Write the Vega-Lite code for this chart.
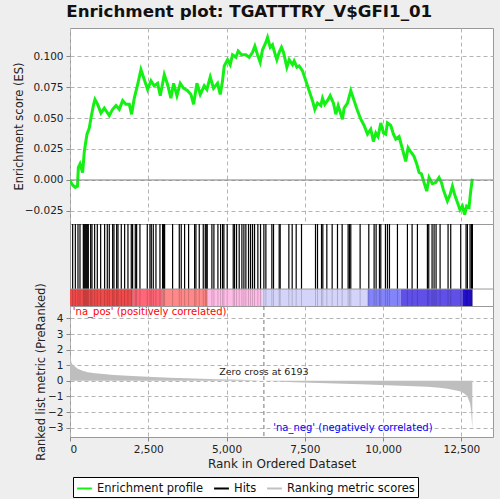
{
  "$schema": "https://vega.github.io/schema/vega-lite/v6.json",
  "background": "#eeeeee",
  "padding": {"left": 12, "top": 3, "right": 8, "bottom": 1},
  "spacing": 0,
  "bounds": "flush",
  "title": {
    "text": "Enrichment plot: TGATTTRY_V$GFI1_01",
    "font": "DejaVu Sans",
    "fontSize": 16.7,
    "fontWeight": "bold",
    "color": "#111111",
    "anchor": "middle",
    "frame": "bounds",
    "dx": -4,
    "offset": 7
  },
  "config": {
    "view": {"stroke": "#999999", "fill": "white"},
    "axis": {
      "labelFont": "DejaVu Sans",
      "labelFontSize": 10.5,
      "labelColor": "#222222",
      "labelOverlap": false,
      "titleFont": "DejaVu Sans",
      "titleFontSize": 11.5,
      "titleFontWeight": "normal",
      "titleColor": "#222222",
      "grid": true,
      "gridColor": "#b4b4b4",
      "gridDash": [4, 3],
      "gridWidth": 1,
      "gridOpacity": 1,
      "domain": false,
      "tickColor": "#888888",
      "tickSize": 4,
      "tickCount": 12,
      "labelPadding": 3,
      "zindex": 1
    },
    "legend": {
      "orient": "none",
      "legendX": 3,
      "legendY": 449,
      "direction": "horizontal",
      "title": null,
      "strokeColor": "black",
      "fillColor": "white",
      "padding": 3,
      "labelFont": "DejaVu Sans",
      "labelFontSize": 11.5,
      "labelColor": "#111111",
      "symbolType": "stroke",
      "symbolSize": 220,
      "symbolStrokeWidth": 2,
      "columnPadding": 6
    }
  },
  "datasets": {
    "es": [
      {"rank": 0, "es": 0}, {"rank": 32, "es": -0.002}, {"rank": 80, "es": -0.004}, {"rank": 170, "es": -0.006},
      {"rank": 240, "es": -0.005}, {"rank": 266, "es": 0.010}, {"rank": 320, "es": 0.013}, {"rank": 404, "es": 0.006},
      {"rank": 457, "es": 0.023}, {"rank": 543, "es": 0.037}, {"rank": 617, "es": 0.042}, {"rank": 670, "es": 0.050},
      {"rank": 755, "es": 0.061}, {"rank": 798, "es": 0.065}, {"rank": 883, "es": 0.061}, {"rank": 989, "es": 0.054},
      {"rank": 1096, "es": 0.058}, {"rank": 1255, "es": 0.052}, {"rank": 1362, "es": 0.057}, {"rank": 1468, "es": 0.060},
      {"rank": 1574, "es": 0.057}, {"rank": 1681, "es": 0.064}, {"rank": 1787, "es": 0.061}, {"rank": 1894, "es": 0.061},
      {"rank": 1968, "es": 0.053}, {"rank": 2053, "es": 0.066}, {"rank": 2160, "es": 0.077}, {"rank": 2266, "es": 0.089},
      {"rank": 2372, "es": 0.081}, {"rank": 2479, "es": 0.073}, {"rank": 2585, "es": 0.080}, {"rank": 2691, "es": 0.076},
      {"rank": 2798, "es": 0.078}, {"rank": 2883, "es": 0.068}, {"rank": 3011, "es": 0.085}, {"rank": 3117, "es": 0.077},
      {"rank": 3223, "es": 0.066}, {"rank": 3309, "es": 0.078}, {"rank": 3415, "es": 0.068}, {"rank": 3521, "es": 0.078},
      {"rank": 3628, "es": 0.074}, {"rank": 3755, "es": 0.072}, {"rank": 3862, "es": 0.069}, {"rank": 3947, "es": 0.061},
      {"rank": 4053, "es": 0.078}, {"rank": 4160, "es": 0.069}, {"rank": 4287, "es": 0.076}, {"rank": 4372, "es": 0.073},
      {"rank": 4479, "es": 0.083}, {"rank": 4585, "es": 0.074}, {"rank": 4713, "es": 0.078}, {"rank": 4798, "es": 0.069},
      {"rank": 4872, "es": 0.080}, {"rank": 4926, "es": 0.092}, {"rank": 5032, "es": 0.097}, {"rank": 5117, "es": 0.093},
      {"rank": 5191, "es": 0.101}, {"rank": 5298, "es": 0.099}, {"rank": 5372, "es": 0.104}, {"rank": 5479, "es": 0.101},
      {"rank": 5617, "es": 0.101}, {"rank": 5723, "es": 0.099}, {"rank": 5830, "es": 0.103}, {"rank": 5904, "es": 0.108},
      {"rank": 5989, "es": 0.101}, {"rank": 6074, "es": 0.095}, {"rank": 6149, "es": 0.105}, {"rank": 6255, "es": 0.111},
      {"rank": 6309, "es": 0.115}, {"rank": 6394, "es": 0.107}, {"rank": 6468, "es": 0.109}, {"rank": 6521, "es": 0.104},
      {"rank": 6606, "es": 0.097}, {"rank": 6681, "es": 0.103}, {"rank": 6755, "es": 0.107}, {"rank": 6819, "es": 0.103},
      {"rank": 6926, "es": 0.091}, {"rank": 7000, "es": 0.097}, {"rank": 7106, "es": 0.093}, {"rank": 7160, "es": 0.096},
      {"rank": 7245, "es": 0.091}, {"rank": 7319, "es": 0.092}, {"rank": 7426, "es": 0.088}, {"rank": 7532, "es": 0.080},
      {"rank": 7638, "es": 0.072}, {"rank": 7745, "es": 0.064}, {"rank": 7819, "es": 0.057}, {"rank": 7904, "es": 0.062},
      {"rank": 8011, "es": 0.060}, {"rank": 8064, "es": 0.066}, {"rank": 8138, "es": 0.061}, {"rank": 8223, "es": 0.064},
      {"rank": 8309, "es": 0.068}, {"rank": 8415, "es": 0.062}, {"rank": 8489, "es": 0.053}, {"rank": 8564, "es": 0.060},
      {"rank": 8702, "es": 0.049}, {"rank": 8755, "es": 0.058}, {"rank": 8862, "es": 0.062}, {"rank": 8968, "es": 0.072},
      {"rank": 9074, "es": 0.064}, {"rank": 9181, "es": 0.056}, {"rank": 9287, "es": 0.049}, {"rank": 9394, "es": 0.044},
      {"rank": 9500, "es": 0.037}, {"rank": 9606, "es": 0.041}, {"rank": 9691, "es": 0.031}, {"rank": 9766, "es": 0.038},
      {"rank": 9840, "es": 0.035}, {"rank": 9926, "es": 0.046}, {"rank": 10011, "es": 0.038}, {"rank": 10085, "es": 0.037},
      {"rank": 10138, "es": 0.046}, {"rank": 10245, "es": 0.044}, {"rank": 10330, "es": 0.037}, {"rank": 10404, "es": 0.033},
      {"rank": 10511, "es": 0.035}, {"rank": 10617, "es": 0.025}, {"rank": 10723, "es": 0.015}, {"rank": 10798, "es": 0.026},
      {"rank": 10904, "es": 0.022}, {"rank": 10989, "es": 0.019}, {"rank": 11074, "es": 0.013}, {"rank": 11149, "es": 0.006},
      {"rank": 11223, "es": 0.005}, {"rank": 11308, "es": -0.002}, {"rank": 11394, "es": -0.009}, {"rank": 11468, "es": 0.002},
      {"rank": 11574, "es": -0.003}, {"rank": 11681, "es": -0.002}, {"rank": 11787, "es": 0.002}, {"rank": 11862, "es": -0.002},
      {"rank": 11926, "es": -0.008}, {"rank": 12053, "es": -0.017}, {"rank": 12138, "es": -0.012}, {"rank": 12213, "es": -0.005},
      {"rank": 12287, "es": -0.012}, {"rank": 12372, "es": -0.018}, {"rank": 12457, "es": -0.024}, {"rank": 12532, "es": -0.021},
      {"rank": 12606, "es": -0.028}, {"rank": 12670, "es": -0.021}, {"rank": 12745, "es": -0.022}, {"rank": 12798, "es": -0.009},
      {"rank": 12851, "es": 0.001}
    ],
    "hits": [
      {"rank": 85}, {"rank": 170}, {"rank": 255}, {"rank": 319}, {"rank": 426}, {"rank": 457}, {"rank": 489}, {"rank": 521},
      {"rank": 553}, {"rank": 585}, {"rank": 660}, {"rank": 702}, {"rank": 787}, {"rank": 872}, {"rank": 979}, {"rank": 1106},
      {"rank": 1191}, {"rank": 1255}, {"rank": 1362}, {"rank": 1404}, {"rank": 1490}, {"rank": 1532}, {"rank": 1638}, {"rank": 1745},
      {"rank": 1851}, {"rank": 1957}, {"rank": 2000}, {"rank": 2085}, {"rank": 2128}, {"rank": 2234}, {"rank": 2468}, {"rank": 2553},
      {"rank": 2596}, {"rank": 2660}, {"rank": 2745}, {"rank": 2873}, {"rank": 2958}, {"rank": 2990}, {"rank": 3022}, {"rank": 3277},
      {"rank": 3490}, {"rank": 3553}, {"rank": 3660}, {"rank": 3788}, {"rank": 3979}, {"rank": 4022}, {"rank": 4128}, {"rank": 4256},
      {"rank": 4320}, {"rank": 4351}, {"rank": 4383}, {"rank": 4532}, {"rank": 4596}, {"rank": 4724}, {"rank": 4809}, {"rank": 4873},
      {"rank": 4915}, {"rank": 5021}, {"rank": 5213}, {"rank": 5255}, {"rank": 5319}, {"rank": 5404}, {"rank": 5490}, {"rank": 5554},
      {"rank": 5617}, {"rank": 5702}, {"rank": 5766}, {"rank": 5830}, {"rank": 5894}, {"rank": 6000}, {"rank": 6085}, {"rank": 6192},
      {"rank": 6256}, {"rank": 6447}, {"rank": 6500}, {"rank": 6681}, {"rank": 6713}, {"rank": 6990}, {"rank": 7096}, {"rank": 7224},
      {"rank": 7394}, {"rank": 7841}, {"rank": 7905}, {"rank": 8033}, {"rank": 8075}, {"rank": 8203}, {"rank": 8373}, {"rank": 8543},
      {"rank": 8692}, {"rank": 8883}, {"rank": 8926}, {"rank": 8968}, {"rank": 9266}, {"rank": 9543}, {"rank": 9713}, {"rank": 9777},
      {"rank": 9884}, {"rank": 9926}, {"rank": 10075}, {"rank": 10139}, {"rank": 10203}, {"rank": 10458}, {"rank": 10777}, {"rank": 10926},
      {"rank": 11096}, {"rank": 11415}, {"rank": 11458}, {"rank": 11564}, {"rank": 11628}, {"rank": 11692}, {"rank": 11820}, {"rank": 12075},
      {"rank": 12160}, {"rank": 12479}, {"rank": 12650}, {"rank": 12693}, {"rank": 12777}, {"rank": 12820}, {"rank": 12853}
    ],
    "bands": [
      {"seg": "a", "start": 0, "end": 2000},
      {"seg": "b", "start": 2000, "end": 2958},
      {"seg": "c", "start": 2958, "end": 4394},
      {"seg": "d", "start": 4394, "end": 6149},
      {"seg": "e", "start": 6149, "end": 9500},
      {"seg": "f", "start": 9500, "end": 10564},
      {"seg": "g", "start": 10564, "end": 12532},
      {"seg": "h", "start": 12532, "end": 12853}
    ],
    "metric": [
      {"rank": 0, "score": 1.75}, {"rank": 10, "score": 1.6}, {"rank": 30, "score": 1.3}, {"rank": 60, "score": 1.1},
      {"rank": 138, "score": 0.95}, {"rank": 245, "score": 0.78}, {"rank": 400, "score": 0.65}, {"rank": 564, "score": 0.55},
      {"rank": 800, "score": 0.49}, {"rank": 989, "score": 0.45}, {"rank": 1400, "score": 0.38}, {"rank": 1840, "score": 0.33},
      {"rank": 2479, "score": 0.26}, {"rank": 3200, "score": 0.2}, {"rank": 3968, "score": 0.15}, {"rank": 4700, "score": 0.11},
      {"rank": 5458, "score": 0.07}, {"rank": 6193, "score": 0}, {"rank": 7160, "score": -0.09}, {"rank": 8224, "score": -0.15},
      {"rank": 9288, "score": -0.22}, {"rank": 10351, "score": -0.29}, {"rank": 11000, "score": -0.34}, {"rank": 11415, "score": -0.38},
      {"rank": 11800, "score": -0.44}, {"rank": 12054, "score": -0.51}, {"rank": 12300, "score": -0.6}, {"rank": 12479, "score": -0.69},
      {"rank": 12600, "score": -0.82}, {"rank": 12693, "score": -1.0}, {"rank": 12777, "score": -1.44}, {"rank": 12810, "score": -1.9},
      {"rank": 12831, "score": -2.5}, {"rank": 12850, "score": -3.1}
    ],
    "notes": [
      {"rank": 90, "score": 4.42, "label": "'na_pos' (positively correlated)", "side": "pos"},
      {"rank": 11580, "score": -3.03, "label": "'na_neg' (negatively correlated)", "side": "neg"}
    ],
    "zero": [
      {"rank": 6193, "score": 0.6, "label": "Zero cross at 6193"}
    ]
  },
  "vconcat": [
    {
      "width": 423,
      "height": 196,
      "layer": [
        {
          "data": {"name": "es"},
          "mark": {"type": "line", "strokeWidth": 3, "clip": true},
          "encoding": {
            "x": {
              "field": "rank", "type": "quantitative",
              "scale": {"domain": [0, 13510], "nice": false, "zero": false},
              "axis": {"title": null, "labels": false, "ticks": false, "values": [0, 2500, 5000, 7500, 10000, 12500], "grid": true}
            },
            "y": {
              "field": "es", "type": "quantitative",
              "scale": {"domain": [-0.0355, 0.1226], "nice": false, "zero": false},
              "axis": {
                "title": "Enrichment score (ES)",
                "values": [-0.025, 0, 0.025, 0.05, 0.075, 0.1],
                "format": ".3f",
                "grid": true,
                "titleX": -51,
                "titleBaseline": "middle"
              }
            },
            "color": {
              "datum": "Enrichment profile",
              "type": "nominal",
              "scale": {
                "domain": ["Enrichment profile", "Hits", "Ranking metric scores"],
                "range": ["#14f014", "#000000", "#c0c0c0"]
              }
            }
          }
        },
        {
          "data": {"values": [{}]},
          "mark": {"type": "rule", "color": "#808080", "strokeWidth": 1},
          "encoding": {"y": {"datum": 0, "type": "quantitative"}}
        }
      ]
    },
    {
      "width": 423,
      "height": 82,
      "layer": [
        {
          "data": {"name": "bands"},
          "mark": {"type": "rect"},
          "encoding": {
            "x": {
              "field": "start", "type": "quantitative",
              "scale": {"domain": [0, 13510], "nice": false, "zero": false},
              "axis": null
            },
            "x2": {"field": "end"},
            "y": {"datum": 0, "type": "quantitative", "scale": {"domain": [0, 1], "nice": false}, "axis": null},
            "y2": {"datum": 0.207},
            "fill": {
              "field": "seg", "type": "nominal", "legend": null,
              "scale": {
                "domain": ["a", "b", "c", "d", "e", "f", "g", "h"],
                "range": ["#f04a4a", "#ff6678", "#ff8888", "#ffbce6", "#d4d4fa", "#8484fa", "#6050e8", "#2410cc"]
              }
            }
          }
        },
        {
          "data": {"name": "hits"},
          "mark": {"type": "rule", "color": "#000000", "strokeWidth": 1, "opacity": 0.18},
          "encoding": {
            "x": {"field": "rank", "type": "quantitative"},
            "y": {"datum": 0, "type": "quantitative"},
            "y2": {"datum": 0.207}
          }
        },
        {
          "data": {"name": "hits"},
          "mark": {"type": "rule", "color": "#000000", "strokeWidth": 1.2},
          "encoding": {
            "x": {"field": "rank", "type": "quantitative"},
            "y": {"datum": 0.207, "type": "quantitative"},
            "y2": {"datum": 1}
          }
        },
        {
          "data": {"values": [{}]},
          "mark": {"type": "rule", "color": "#999999", "strokeWidth": 1},
          "encoding": {"y": {"datum": 0.207, "type": "quantitative"}}
        }
      ]
    },
    {
      "width": 423,
      "height": 131,
      "layer": [
        {
          "data": {"name": "metric"},
          "mark": {"type": "area", "color": "#bebebe"},
          "encoding": {
            "x": {
              "field": "rank", "type": "quantitative",
              "scale": {"domain": [0, 13510], "nice": false, "zero": false},
              "axis": {
                "title": "Rank in Ordered Dataset",
                "titleFontSize": 12,
                "values": [0, 2500, 5000, 7500, 10000, 12500],
                "format": ",d",
                "grid": true,
                "titlePadding": 4
              }
            },
            "y": {
              "field": "score", "type": "quantitative",
              "scale": {"domain": [-3.6, 4.8], "nice": false},
              "axis": {
                "title": "Ranked list metric (PreRanked)",
                "values": [-3, -2, -1, 0, 1, 2, 3, 4],
                "format": "d",
                "grid": true,
                "titleX": -29,
                "titleBaseline": "middle"
              }
            }
          }
        },
        {
          "data": {"name": "zero"},
          "mark": {"type": "rule", "color": "#777777", "strokeDash": [4, 3], "strokeWidth": 1},
          "encoding": {"x": {"field": "rank", "type": "quantitative"}}
        },
        {
          "data": {"name": "zero"},
          "mark": {"type": "text", "font": "DejaVu Sans", "fontSize": 9.5, "color": "#222222", "align": "center", "baseline": "middle"},
          "encoding": {
            "x": {"field": "rank", "type": "quantitative"},
            "y": {"field": "score", "type": "quantitative"},
            "text": {"field": "label"}
          }
        },
        {
          "data": {"name": "notes"},
          "transform": [{"filter": "datum.side === 'pos'"}],
          "mark": {"type": "text", "font": "DejaVu Sans", "fontSize": 10, "baseline": "middle", "align": "left", "color": "#ff0000"},
          "encoding": {
            "x": {"field": "rank", "type": "quantitative"},
            "y": {"field": "score", "type": "quantitative"},
            "text": {"field": "label"}
          }
        },
        {
          "data": {"name": "notes"},
          "transform": [{"filter": "datum.side === 'neg'"}],
          "mark": {"type": "text", "font": "DejaVu Sans", "fontSize": 10, "baseline": "middle", "align": "right", "color": "#0000ff"},
          "encoding": {
            "x": {"field": "rank", "type": "quantitative"},
            "y": {"field": "score", "type": "quantitative"},
            "text": {"field": "label"}
          }
        }
      ]
    }
  ]
}
